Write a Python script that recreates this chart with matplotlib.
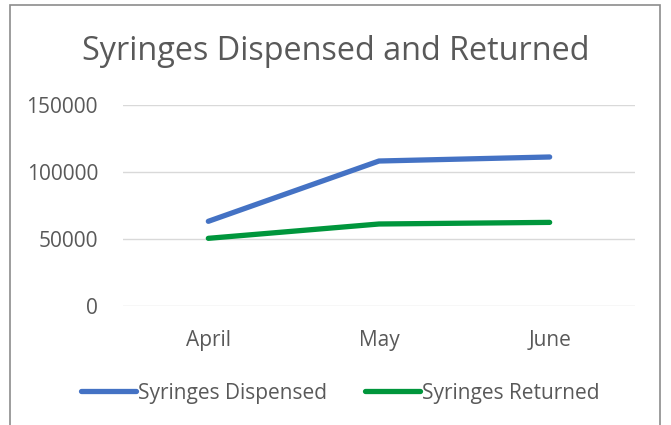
import matplotlib
matplotlib.use("Agg")
import matplotlib.pyplot as plt
from matplotlib.patches import Rectangle

months = ["April", "May", "June"]
dispensed = [63200, 108200, 111200]
returned = [50500, 61200, 62400]
y_ticks = [0, 50000, 100000, 150000]

TXT = "#595959"
plt.rcParams["font.family"] = ["Open Sans", "DejaVu Sans"]

fig = plt.figure(figsize=(6.71, 4.25), dpi=100)
fig.patches.append(Rectangle((10 / 671, -0.1), 650 / 671, 1.1 - 5 / 425,
                             transform=fig.transFigure, fill=False,
                             edgecolor="#8c8c8c", linewidth=1.2))

ax = fig.add_axes([123 / 671, 1 - 306 / 425, 512 / 671, 201 / 425])
x = range(len(months))
ax.plot(x, dispensed, color="#4472C4", linewidth=3.8, solid_capstyle="round",
        label="Syringes Dispensed")
ax.plot(x, returned, color="#00963C", linewidth=3.8, solid_capstyle="round",
        label="Syringes Returned")

ax.set_xlim(-0.5, 2.5)
ax.set_ylim(0, 150000)
ax.set_yticks(y_ticks)
ax.set_yticklabels([str(v) for v in y_ticks])
ax.set_xticks(list(x))
ax.set_xticklabels(months)
ax.tick_params(length=0, labelsize=15, colors=TXT)
ax.tick_params(axis="y", pad=18)
ax.tick_params(axis="x", pad=17)
ax.grid(axis="y", color="#d9d9d9", linewidth=1)
ax.set_axisbelow(True)
for s in ax.spines.values():
    s.set_visible(False)

fig.text(0.5, 1 - 52 / 425, "Syringes Dispensed and Returned", ha="center",
         va="center", fontsize=23.3, color=TXT)

fig.legend(loc="center", bbox_to_anchor=(0.507, 1 - 393 / 425), ncol=2,
           frameon=False, fontsize=15, labelcolor=TXT, handlelength=2.64,
           handletextpad=0.1, columnspacing=1.8)

fig.savefig("out.png", dpi=100)
